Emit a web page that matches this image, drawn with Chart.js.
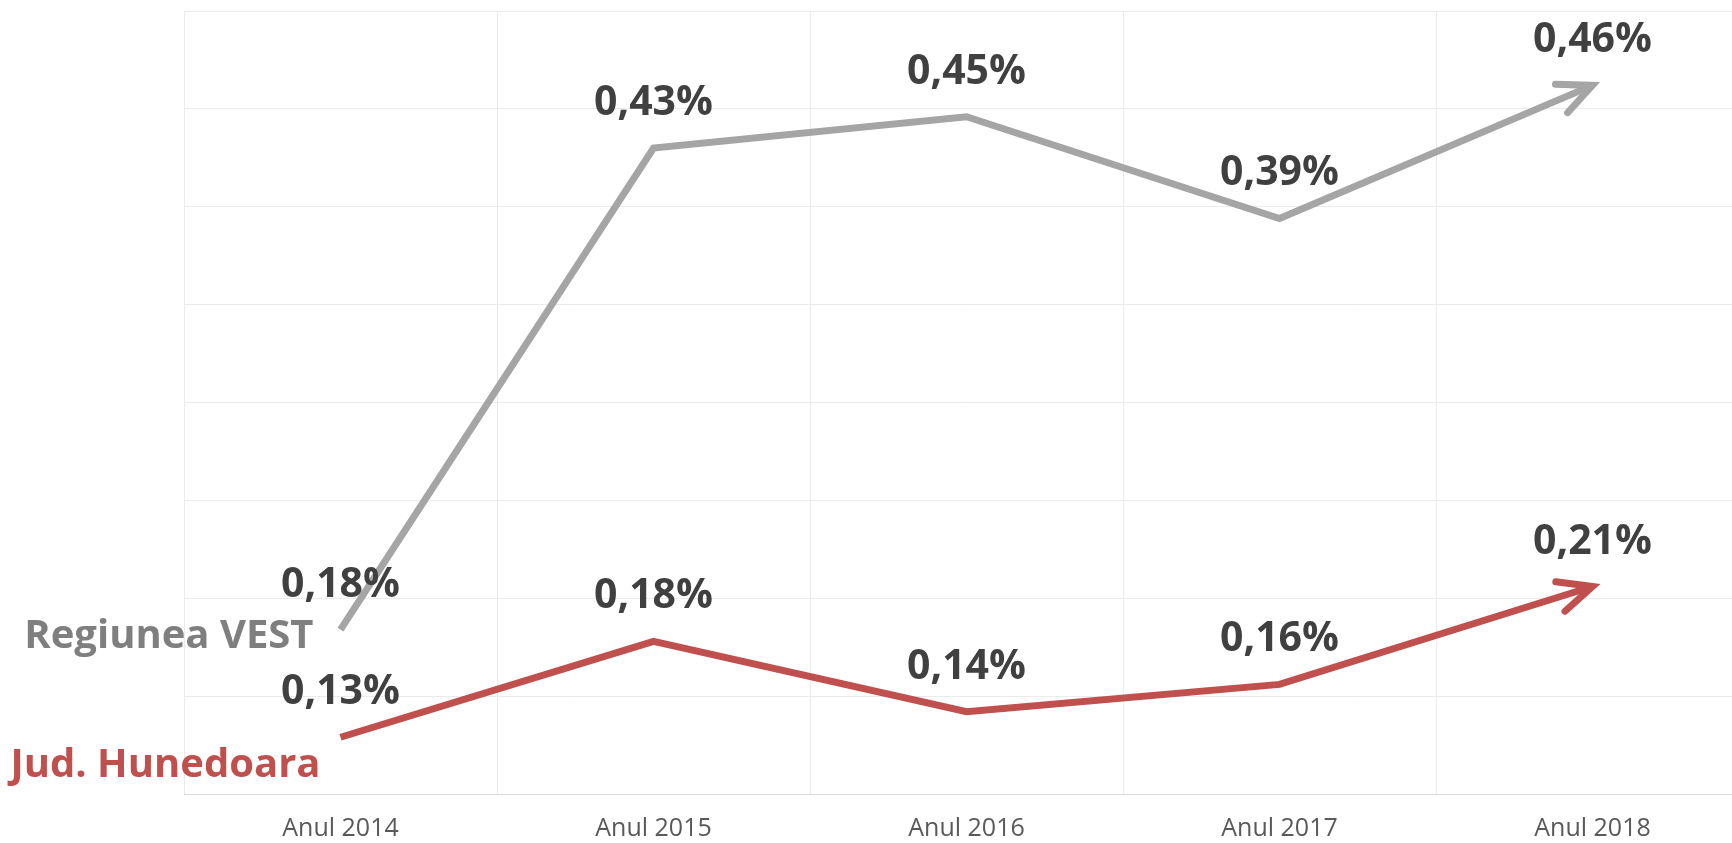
<!DOCTYPE html>
<html>
<head>
<meta charset="utf-8">
<script src="https://cdn.jsdelivr.net/npm/chart.js@4/dist/chart.umd.min.js"></script>
<style>
  html, body { margin: 0; padding: 0; background: #ffffff; overflow: hidden; }
  #wrap { width: 1760px; height: 843px; position: relative; }
</style>
</head>
<body>
<div id="wrap"><canvas id="c" width="1760" height="843"></canvas></div>
<script>
const categories = ['Anul 2014', 'Anul 2015', 'Anul 2016', 'Anul 2017', 'Anul 2018'];
const seriesNames = ['Regiunea VEST', 'Jud. Hunedoara'];
const regiuneaVest = [0.184, 0.430, 0.446, 0.394, 0.462];
const judHunedoara = [0.129, 0.178, 0.142, 0.156, 0.206];
const seriesColors = ['#a5a5a5', '#c0504d'];
const nameColors = ['#7f7f7f', '#c0504d'];
const yMin = 0.10, yMax = 0.50, yStep = 0.05;

function fmt(v) { return v.toFixed(2).replace('.', ',') + '%'; }

const overlay = {
  id: 'overlay',
  afterDatasetsDraw(chart) {
    const ctx = chart.ctx;
    // offsets of the series name relative to the first point
    const nameOffsets = [{dx: -27, dy: 18}, {dx: -20, dy: 40}];
    chart.data.datasets.forEach((ds, i) => {
      const pts = chart.getDatasetMeta(i).data;
      const a = pts[pts.length - 2], b = pts[pts.length - 1];
      const ang = Math.atan2(a.y - b.y, a.x - b.x);
      const L = 37, spread = 0.43;
      ctx.save();
      ctx.strokeStyle = ds.borderColor;
      ctx.lineWidth = 7;
      ctx.lineCap = 'round';
      ctx.lineJoin = 'miter';
      ctx.beginPath();
      ctx.moveTo(b.x + L * Math.cos(ang - spread), b.y + L * Math.sin(ang - spread));
      ctx.lineTo(b.x, b.y);
      ctx.lineTo(b.x + L * Math.cos(ang + spread), b.y + L * Math.sin(ang + spread));
      ctx.stroke();
      ctx.restore();

      ctx.save();
      ctx.font = 'bold 41px "Open Sans"';
      ctx.fillStyle = '#404040';
      ctx.textAlign = 'center';
      ctx.textBaseline = 'alphabetic';
      pts.forEach((p, j) => ctx.fillText(fmt(ds.data[j]), p.x, p.y - 33));
      const p0 = pts[0], o = nameOffsets[i];
      ctx.font = 'bold 40px "Open Sans"';
      ctx.textAlign = 'right';
      ctx.fillStyle = nameColors[i];
      ctx.fillText(ds.label, p0.x + o.dx, p0.y + o.dy);
      ctx.restore();
    });
  }
};

new Chart(document.getElementById('c'), {
  type: 'line',
  data: {
    labels: categories,
    datasets: [
      { label: seriesNames[0], data: regiuneaVest, borderColor: seriesColors[0], backgroundColor: seriesColors[0] },
      { label: seriesNames[1], data: judHunedoara, borderColor: seriesColors[1], backgroundColor: seriesColors[1] }
    ]
  },
  options: {
    responsive: false,
    animation: false,
    layout: { padding: { left: 184, top: 11, right: 11, bottom: 0 } },
    elements: {
      line: { borderWidth: 7, tension: 0, borderCapStyle: 'butt', borderJoinStyle: 'miter', fill: false },
      point: { radius: 0, hoverRadius: 0 }
    },
    plugins: { legend: { display: false }, tooltip: { enabled: false } },
    scales: {
      x: {
        offset: true,
        grid: { offset: true, color: '#ebebeb', lineWidth: 1, drawTicks: false },
        border: { display: true, color: '#d9d9d9', width: 1 },
        ticks: { color: '#595959', font: { family: '"Open Sans"', size: 25 }, padding: 20, maxRotation: 0 },
        afterFit: s => { s.height = 49; }
      },
      y: {
        min: yMin, max: yMax,
        ticks: { display: false, stepSize: yStep },
        grid: { color: '#ebebeb', lineWidth: 1, drawTicks: false },
        border: { display: false },
        afterFit: s => { s.width = 0; }
      }
    }
  },
  plugins: [overlay]
});
</script>
</body>
</html>
